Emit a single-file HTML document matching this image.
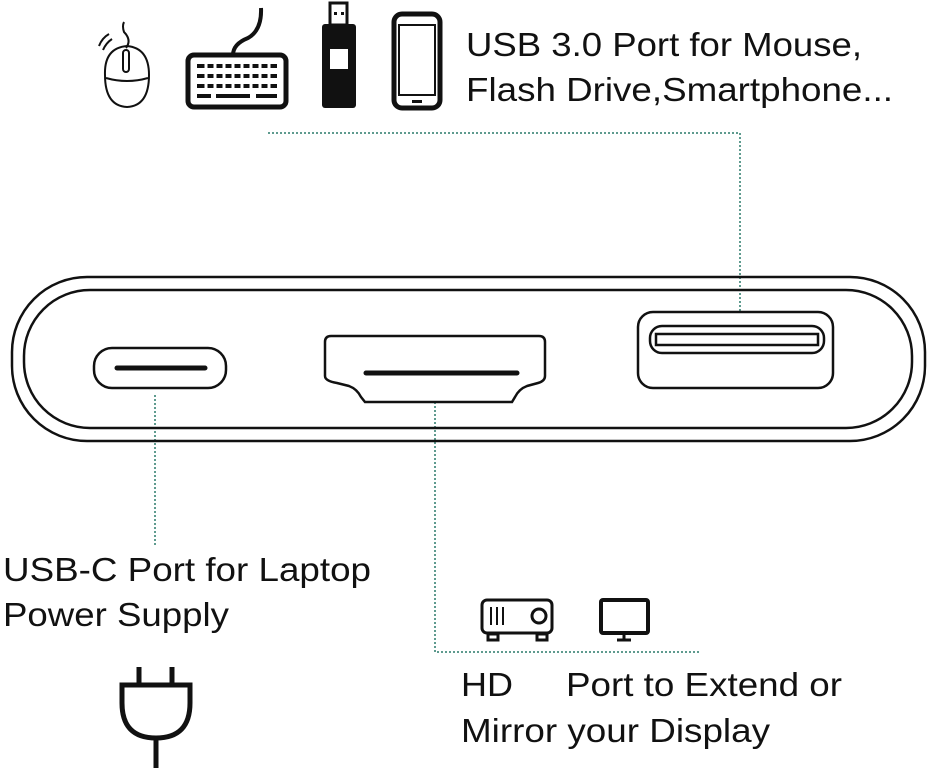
<!DOCTYPE html>
<html><head><style>body{margin:0;background:#fff}svg{display:block}</style></head><body>
<svg width="931" height="772" viewBox="0 0 931 772" xmlns="http://www.w3.org/2000/svg">
<g font-family="Liberation Sans, sans-serif" font-size="33" fill="#111" lengthAdjust="spacingAndGlyphs">
<text x="466" y="56" textLength="396" lengthAdjust="spacingAndGlyphs">USB 3.0 Port for Mouse,</text>
<text x="466" y="101" textLength="427" lengthAdjust="spacingAndGlyphs">Flash Drive,Smartphone...</text>
<text x="3" y="581" textLength="368" lengthAdjust="spacingAndGlyphs">USB-C Port for Laptop</text>
<text x="3" y="626" textLength="226" lengthAdjust="spacingAndGlyphs">Power Supply</text>
<text x="461" y="696" textLength="52" lengthAdjust="spacingAndGlyphs">HD</text>
<text x="566" y="696" textLength="276" lengthAdjust="spacingAndGlyphs">Port to Extend or</text>
<text x="461" y="742" textLength="309" lengthAdjust="spacingAndGlyphs">Mirror your Display</text>
</g>
<g fill="none" stroke="#2a7a6a" stroke-width="1.5" stroke-dasharray="2,2">
<path d="M268 133H740V312"/>
<path d="M155 395V545"/>
<path d="M435 402V652H700"/>
</g>
<g fill="none" stroke="#111" stroke-width="2.5">
<rect x="12" y="277" width="913" height="164" rx="75"/>
<rect x="24" y="290" width="888" height="138" rx="66"/>
<rect x="94" y="348" width="132" height="40" rx="18"/>
<path d="M331 336H539Q545 336 545 342V376Q545 381 538 383L527 386Q519 389 515 397L512 402H365L361 397Q357 389 349 386L337 383Q325 381 325 376V342Q325 336 331 336Z"/>
<rect x="638" y="312" width="195" height="76" rx="15"/>
<rect x="650" y="326" width="174" height="27" rx="12"/>
<rect x="656" y="334" width="162" height="11"/>
</g>
<g stroke="#111" stroke-linecap="round">
<line x1="117" y1="368" x2="205" y2="368" stroke-width="5"/>
<line x1="366" y1="373" x2="517" y2="373" stroke-width="5"/>
</g>
<!-- mouse -->
<g fill="none" stroke="#111" stroke-width="2">
<path d="M127 46Q104 48 105 75Q105 106 127 107Q149 106 149 75Q149 48 127 46Z"/>
<path d="M106 78Q127 84 148 78"/>
<rect x="123" y="50" width="6" height="22" rx="3"/>
<path d="M126 48Q132 40 124 32Q122 26 124 22"/>
<path d="M103 50Q106 43 112 39M99 46Q102 38 109 34"/>
</g>
<!-- keyboard -->
<rect x="188" y="55" width="98" height="52" rx="6" fill="none" stroke="#111" stroke-width="5"/>
<path d="M233 55Q233 44 248 38Q262 30 261 8" fill="none" stroke="#111" stroke-width="4"/>
<g fill="#111">
<rect x="197" y="64" width="80" height="4"/><rect x="197" y="74" width="80" height="4"/><rect x="197" y="84" width="80" height="4"/>
<rect x="197" y="94" width="14" height="4"/><rect x="216" y="94" width="34" height="4"/><rect x="256" y="94" width="21" height="4"/>
</g>
<g stroke="#fff" stroke-width="3">
<path d="M206 62V90M215 62V90M224 62V90M233 62V90M242 62V90M251 62V90M260 62V90M269 62V90"/>
</g>
<!-- flash drive -->
<rect x="330" y="3" width="17" height="22" fill="none" stroke="#111" stroke-width="3"/>
<rect x="334" y="12" width="3" height="3" fill="#111"/><rect x="341" y="12" width="3" height="3" fill="#111"/>
<rect x="322" y="24" width="34" height="84" rx="3" fill="#111"/>
<rect x="330" y="49" width="18" height="20" fill="#fff"/>
<!-- phone -->
<rect x="394" y="14" width="46" height="94" rx="8" fill="none" stroke="#111" stroke-width="5"/>
<rect x="399" y="25" width="36" height="70" fill="none" stroke="#111" stroke-width="2"/>
<rect x="412" y="100" width="10" height="3" fill="#111"/>
<!-- projector -->
<g fill="none" stroke="#111" stroke-width="3">
<rect x="482" y="600" width="70" height="33" rx="5"/>
<circle cx="539" cy="616" r="7"/>
<rect x="488" y="634" width="10" height="6"/><rect x="537" y="634" width="10" height="6"/>
<path d="M491 607V625M497 607V625M503 607V625" stroke-width="2"/>
<rect x="601" y="600" width="47" height="33" rx="2" stroke-width="4"/>
<path d="M624 634V640M617 640H631"/>
</g>
<!-- plug -->
<g fill="none" stroke="#111" stroke-width="5">
<path d="M139 667V685M172 667V685"/>
<path d="M122 685H190V703Q190 738 156 738Q122 738 122 703Z"/>
<path d="M156 738V768"/>
</g>
</svg>
</body></html>
